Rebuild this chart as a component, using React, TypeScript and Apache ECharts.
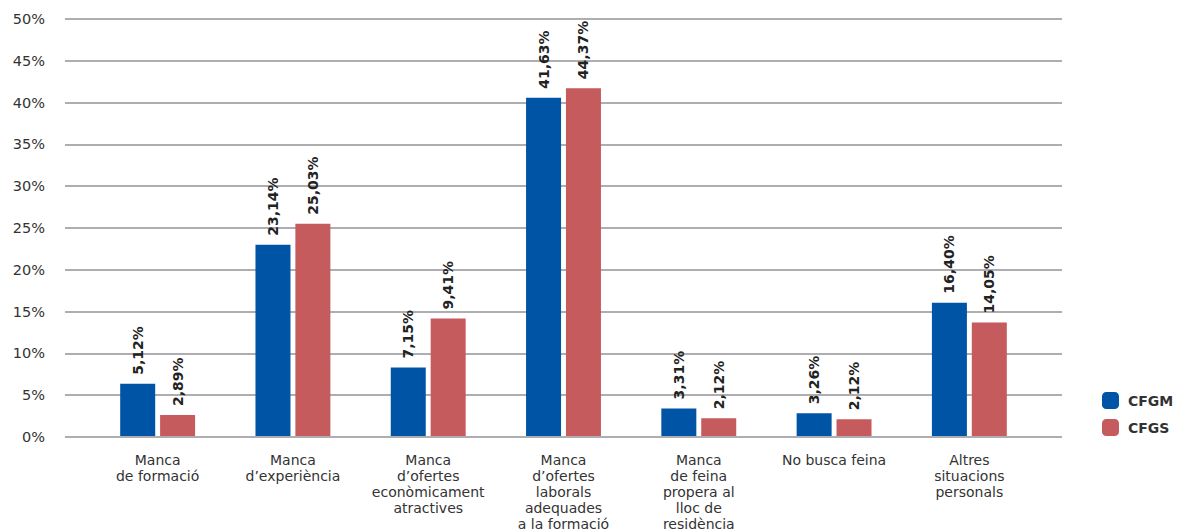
import React, { useEffect, useRef } from "react";
import * as echarts from "echarts";

const categories = [
  "Manca\nde formació",
  "Manca\nd’experiència",
  "Manca\nd’ofertes\neconòmicament\natractives",
  "Manca\nd’ofertes\nlaborals\nadequades\na la formació",
  "Manca\nde feina\npropera al\nlloc de\nresidència",
  "No busca feina",
  "Altres\nsituacions\npersonals",
];
const seriesNames = ["CFGM", "CFGS"];
const cfgmValues = [6.27, 22.93, 8.22, 40.55, 3.31, 2.72, 15.99];
const cfgsValues = [2.51, 25.44, 14.08, 41.71, 2.12, 2.0, 13.6];
const cfgmLabels = ["5,12%", "23,14%", "7,15%", "41,63%", "3,31%", "3,26%", "16,40%"];
const cfgsLabels = ["2,89%", "25,03%", "9,41%", "44,37%", "2,12%", "2,12%", "14,05%"];
const yMin = 0;
const yMax = 50;
const yInterval = 5;

const FONT = "'DejaVu Sans', 'Noto Sans', sans-serif";

export default function App() {
  const ref = useRef<HTMLDivElement>(null);
  useEffect(() => {
    if (!ref.current) return;
    const chart = echarts.init(ref.current, undefined, { renderer: "svg" });
    const labelStyle = (labels: string[]) => ({
      show: true,
      position: "top",
      rotate: 90,
      align: "left",
      verticalAlign: "middle",
      distance: 9,
      color: "#222",
      fontFamily: FONT,
      fontSize: 14,
      fontWeight: 700,
      formatter: (p: any) => labels[p.dataIndex],
    });
    chart.setOption({
      animation: false,
      textStyle: { fontFamily: FONT },
      grid: [
        { left: 65, right: 123, top: 19, bottom: 95 },
        { left: 90, right: 148, top: 19, bottom: 95 },
      ],
      legend: {
        orient: "vertical",
        left: 1097,
        top: 387,
        itemWidth: 17,
        itemHeight: 17,
        itemGap: 10,
        icon: "roundRect",
        textStyle: { fontFamily: FONT, fontSize: 14, fontWeight: 700, color: "#333", padding: [0, 0, 0, 4] },
        data: seriesNames,
      },
      xAxis: [
        { type: "category", gridIndex: 0, data: categories, show: false },
        {
          type: "category",
          gridIndex: 1,
          data: categories,
          axisLine: { show: false },
          axisTick: { show: false },
          axisLabel: {
            interval: 0,
            margin: 16,
            color: "#333",
            fontFamily: FONT,
            fontSize: 14,
            lineHeight: 16,
            align: "center",
          },
        },
      ],
      yAxis: [
        {
          type: "value",
          gridIndex: 0,
          min: yMin,
          max: yMax,
          interval: yInterval,
          axisLine: { show: false },
          axisTick: { show: false },
          axisLabel: {
            formatter: "{value}%",
            color: "#333",
            fontFamily: FONT,
            fontSize: 14.5,
            margin: 20,
          },
          splitLine: { lineStyle: { color: "#aeaeb2", width: 2 } },
        },
        {
          type: "value",
          gridIndex: 1,
          min: yMin,
          max: yMax,
          interval: yInterval,
          show: false,
          splitLine: { show: false },
        },
      ],
      series: [
        {
          name: seriesNames[0],
          type: "bar",
          xAxisIndex: 1,
          yAxisIndex: 1,
          data: cfgmValues,
          barWidth: 35,
          barGap: "14%",
          itemStyle: { color: "#0054a5" },
          label: labelStyle(cfgmLabels),
        },
        {
          name: seriesNames[1],
          type: "bar",
          xAxisIndex: 1,
          yAxisIndex: 1,
          data: cfgsValues,
          barWidth: 35,
          barGap: "14%",
          itemStyle: { color: "#c65b5d" },
          label: labelStyle(cfgsLabels),
        },
      ],
    });
    return () => chart.dispose();
  }, []);
  return (
    <div
      ref={ref}
      style={{ position: "fixed", left: 0, top: 0, width: 1185, height: 532, background: "#fff" }}
    />
  );
}
